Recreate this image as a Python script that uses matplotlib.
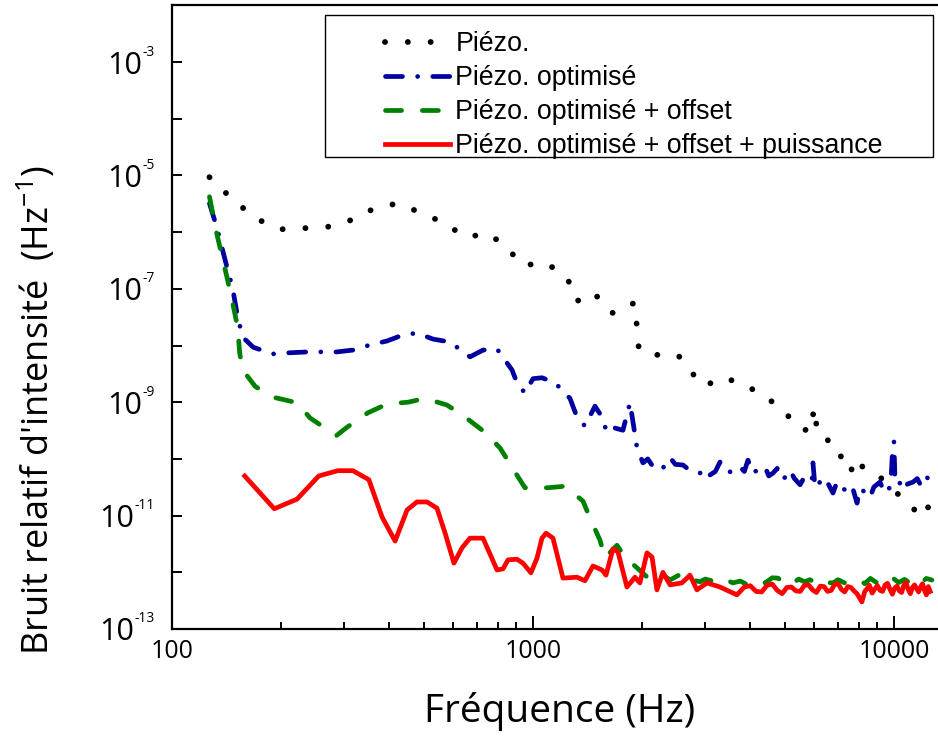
import matplotlib
matplotlib.use("Agg")
import matplotlib.pyplot as plt
from matplotlib.patches import Rectangle
from matplotlib.ticker import LogLocator, NullFormatter, FixedLocator
from matplotlib.transforms import blended_transform_factory, offset_copy

plt.rcParams['font.family'] = ['Open Sans', 'DejaVu Sans']
plt.rcParams['mathtext.fontset'] = 'custom'
plt.rcParams['mathtext.rm'] = 'Open Sans'
plt.rcParams['mathtext.default'] = 'regular'

labels = ["Piézo.", "Piézo. optimisé", "Piézo. optimisé + offset",
          "Piézo. optimisé + offset + puissance"]

# Piézo.
f_piezo = [127, 149, 172, 199, 231, 269, 311, 363, 420, 490, 567, 652, 750, 842, 933,
           1087, 1242, 1324, 1438, 1563, 1666, 1810, 1917, 1940, 1966, 2219, 2522, 2740,
           2995, 3297, 3698, 4121, 4537, 4772, 5022, 5318, 5778, 6043, 6120, 6442, 6776,
           6998, 7458, 7696, 7946, 8318, 8974, 9441, 10190, 10867, 11290, 11650, 12030, 12590]
y_piezo = [9.3e-6, 3.5e-6, 1.7e-6, 1.12e-6, 1.17e-6, 1.23e-6, 1.6e-6, 2.6e-6, 3.2e-6, 2.2e-6,
           1.45e-6, 8.1e-7, 9.5e-7, 5.6e-7, 2.6e-7, 2.85e-7, 1.6e-7, 6.0e-8, 8.7e-8, 6.3e-8,
           3.7e-8, 5.1e-8, 5.6e-8, 2.1e-8, 8.3e-9, 6.8e-9, 6.8e-9, 3.4e-9, 1.9e-9, 2.7e-9,
           2.3e-9, 1.6e-9, 1.1e-9, 8.0e-10, 5.8e-10, 5.3e-10, 2.9e-10, 8.0e-10, 2.9e-10,
           2.5e-10, 1.6e-10, 1.07e-10, 1.2e-10, 5.2e-11, 8.1e-11, 6.9e-11, 5.6e-11, 3.8e-11,
           2.5e-11, 1.66e-11, 1.4e-11, 9.8e-12, 1.4e-11, 1.4e-11]

# Piézo. optimisé
f_opt = [127, 133, 142, 147, 152, 157, 168, 190, 208, 237, 257, 286, 317, 353, 394, 436,
         477, 528, 589, 669, 727, 795, 875, 903, 950, 1000, 1059, 1151, 1266, 1324, 1393,
         1485, 1553, 1603, 1687, 1775, 1857, 1942, 2017, 2080, 2150, 2248, 2320, 2397,
         2480, 2604, 2700, 2775, 2901, 3000, 3092, 3200, 3297, 3400, 3513, 3620, 3744,
         3850, 3940, 4068, 4200, 4393, 4500, 4621, 4750, 4928, 5050, 5152, 5300, 5494,
         5650, 5800, 5927, 5966, 6043, 6200, 6360, 6550, 6776, 6954, 7150, 7413, 7650,
         7902, 8050, 8204, 8400, 8583, 8800, 9149, 9350, 9569, 9800, 9936, 10000, 10070,
         10300, 10590, 10900, 11290, 11600, 11900, 12340, 12590]
y_opt = [3.2e-6, 1.23e-6, 2.4e-7, 1.07e-7, 3.2e-8, 1.4e-8, 9.3e-9, 7.1e-9, 7.4e-9, 7.7e-9,
         7.7e-9, 7.7e-9, 8.3e-9, 1.02e-8, 1.2e-8, 1.53e-8, 1.66e-8, 1.3e-8, 1.15e-8, 6.3e-9,
         8.3e-9, 8.7e-9, 3.7e-9, 2.2e-9, 1.45e-9, 2.6e-9, 2.7e-9, 2.2e-9, 1.17e-9, 5.5e-10,
         3.8e-10, 8.5e-10, 5.5e-10, 2.9e-10, 3.5e-10, 3.2e-10, 9.8e-10, 1.55e-10, 8.5e-11,
         1.0e-10, 7.3e-11, 6.3e-11, 7.5e-11, 1.05e-10, 8.0e-11, 7.8e-11, 6.5e-11, 5.9e-11,
         5.6e-11, 6.8e-11, 5.2e-11, 6.0e-11, 8.8e-11, 6.2e-11, 5.9e-11, 7.0e-11, 7.3e-11,
         6.0e-11, 9.5e-11, 5.6e-11, 6.5e-11, 7.3e-11, 5.0e-11, 5.6e-11, 6.8e-11, 4.3e-11,
         5.2e-11, 6.3e-11, 4.5e-11, 3.5e-11, 4.8e-11, 4.0e-11, 4.3e-11, 8.5e-11, 3.2e-11,
         4.0e-11, 3.1e-11, 3.8e-11, 2.5e-11, 3.9e-11, 3.0e-11, 2.8e-11, 3.4e-11, 1.66e-11,
         3.0e-11, 2.8e-11, 2.2e-11, 2.1e-11, 3.2e-11, 3.9e-11, 2.8e-11, 2.5e-11, 3.5e-11,
         1.9e-10, 2.0e-10, 3.9e-11, 4.2e-11, 2.8e-11, 3.6e-11, 3.9e-11, 4.5e-11, 3.3e-11,
         4.8e-11, 3.8e-11]

# Piézo. optimisé + offset
f_off = [127, 133, 142, 148, 152, 154, 157, 170, 190, 222, 241, 277, 286, 305, 349, 394,
         451, 502, 578, 648, 736, 811, 891, 950, 1101, 1227, 1376, 1438, 1533, 1583, 1709,
         1798, 2069, 2205, 2300, 2397, 2500, 2604, 2700, 2775, 2900, 3000, 3152, 3300,
         3450, 3581, 3750, 3900, 4068, 4250, 4400, 4600, 4772, 4950, 5100, 5250, 5450,
         5650, 5850, 6043, 6250, 6500, 6776, 7000, 7300, 7600, 8050, 8300, 8600, 8974,
         9300, 9600, 9936, 10300, 10700, 11070, 11500, 11900, 12300, 12740]
y_off = [4.2e-6, 9.5e-7, 1.6e-7, 4.8e-8, 2.1e-8, 7.4e-9, 3.7e-9, 1.9e-9, 1.23e-9, 9.8e-10,
         5.3e-10, 2.9e-10, 2.6e-10, 3.6e-10, 6.5e-10, 9.3e-10, 1.0e-9, 1.17e-9, 8.9e-10,
         5.5e-10, 2.95e-10, 1.55e-10, 5.9e-11, 3.1e-11, 3.1e-11, 3.3e-11, 1.8e-11, 9.1e-12,
         3.7e-12, 1.8e-12, 3.0e-12, 1.86e-12, 8.3e-13, 7.3e-13, 8.8e-13, 7.3e-13, 8.5e-13,
         9.7e-13, 7.8e-13, 7.3e-13, 6.8e-13, 7.6e-13, 7.0e-13, 6.4e-13, 7.2e-13, 6.5e-13,
         7.0e-13, 6.2e-13, 6.7e-13, 7.3e-13, 6.5e-13, 8.0e-13, 7.9e-13, 6.6e-13, 7.2e-13,
         6.5e-13, 7.6e-13, 6.8e-13, 7.4e-13, 6.7e-13, 7.5e-13, 6.6e-13, 6.5e-13, 7.4e-13,
         6.5e-13, 7.2e-13, 7.3e-13, 6.3e-13, 7.8e-13, 6.5e-13, 7.4e-13, 6.8e-13, 7.9e-13,
         6.6e-13, 7.5e-13, 6.5e-13, 7.6e-13, 6.6e-13, 7.8e-13, 7.3e-13]

# Piézo. optimisé + offset + puissance
f_pui = [159, 192, 222, 255, 288, 317, 351, 382, 415, 448, 477, 509, 542, 571, 604, 636,
         669, 727, 795, 826, 853, 903, 938, 987, 1026, 1059, 1087, 1136, 1211, 1324, 1393,
         1466, 1553, 1593, 1666, 1719, 1821, 1917, 1978, 2069, 2137, 2205, 2291, 2397,
         2586, 2722, 2846, 3035, 3297, 3673, 3850, 4000, 4150, 4300, 4450, 4600, 4750,
         4900, 5050, 5200, 5350, 5500, 5650, 5800, 5950, 6100, 6250, 6400, 6550, 6700,
         6850, 7000, 7150, 7300, 7450, 7600, 7750, 7900, 8150, 8300, 8400, 8550, 8700,
         8850, 9000, 9150, 9300, 9450, 9600, 9750, 9900, 10050, 10200, 10350, 10500,
         10650, 10800, 10950, 11100, 11250, 11400, 11550, 11700, 11850, 12000, 12150,
         12300, 12450, 12600]
y_pui = [5.0e-11, 1.32e-11, 1.95e-11, 5.0e-11, 6.2e-11, 6.2e-11, 4.3e-11, 9.4e-12, 3.55e-12,
         1.26e-11, 1.74e-11, 1.74e-11, 1.35e-11, 4.9e-12, 1.45e-12, 2.7e-12, 4.0e-12, 4.0e-12,
         1.1e-12, 1.15e-12, 1.66e-12, 1.7e-12, 1.45e-12, 9.8e-13, 1.78e-12, 4.0e-12, 4.9e-12,
         4.0e-12, 7.9e-13, 8.2e-13, 7.1e-13, 1.29e-12, 1.1e-12, 8.9e-13, 2.6e-12, 2.3e-12,
         5.5e-13, 8.2e-13, 6.5e-13, 2.2e-12, 1.86e-12, 4.9e-13, 1.0e-12, 6.0e-13, 6.5e-13,
         8.9e-13, 4.9e-13, 6.5e-13, 5.5e-13, 4.0e-13, 5.5e-13, 5.8e-13, 4.6e-13, 4.5e-13,
         5.9e-13, 6.2e-13, 4.8e-13, 4.2e-13, 5.4e-13, 5.5e-13, 4.7e-13, 4.6e-13, 5.9e-13,
         6.0e-13, 4.9e-13, 4.4e-13, 5.7e-13, 5.6e-13, 4.6e-13, 4.8e-13, 6.1e-13, 6.3e-13,
         5.0e-13, 4.5e-13, 5.6e-13, 5.4e-13, 4.7e-13, 4.2e-13, 3.0e-13, 4.6e-13, 5.0e-13,
         5.9e-13, 4.3e-13, 5.1e-13, 5.8e-13, 4.8e-13, 4.6e-13, 6.0e-13, 6.4e-13, 5.0e-13,
         4.1e-13, 5.3e-13, 5.7e-13, 4.7e-13, 4.4e-13, 5.9e-13, 6.6e-13, 5.0e-13, 4.2e-13,
         5.4e-13, 6.0e-13, 5.2e-13, 4.5e-13, 5.5e-13, 6.3e-13, 4.8e-13, 4.0e-13, 5.6e-13,
         4.6e-13]

y_decades = [1e-13, 1e-12, 1e-11, 1e-10, 1e-9, 1e-8, 1e-7, 1e-6, 1e-5, 1e-4, 1e-3]
y_label_exps = [-13, -11, -9, -7, -5, -3]
x_major = [100, 1000, 10000]
x_labels = ["100", "1000", "10000"]

W, H = 938, 736
fig = plt.figure(figsize=(W / 100, H / 100), dpi=100)
ax = fig.add_axes([172 / W, (H - 629) / H, 769 / W, 623.7 / H])

lw = 3.4
ax.plot(f_piezo, y_piezo, color='black', lw=4.2, linestyle=(0, (0.01, 3.9)),
        dash_capstyle='round', label=labels[0])
ax.plot(f_opt, y_opt, color='#0000a0', lw=lw, linestyle=(0, (3.6, 3.2, 0.01, 3.2)),
        dash_capstyle='round', label=labels[1])
ax.plot(f_off, y_off, color='#008000', lw=lw, linestyle=(0, (3.4, 4.4)),
        dash_capstyle='round', label=labels[2])
ax.plot(f_pui, y_pui, color='#ff0000', lw=lw, linestyle='-',
        solid_joinstyle='round', label=labels[3])

ax.set_xscale('log')
ax.set_yscale('log')
ax.set_xlim(100, 13500)
ax.set_ylim(1e-13, 1e-2)

for side in ['left', 'bottom', 'top']:
    ax.spines[side].set_linewidth(1.6)
ax.spines['right'].set_visible(False)

ax.xaxis.set_major_locator(FixedLocator(x_major))
ax.set_xticklabels(x_labels)
ax.xaxis.set_minor_locator(LogLocator(base=10, subs=range(2, 10)))
ax.xaxis.set_minor_formatter(NullFormatter())
ax.tick_params(axis='x', which='major', direction='in', length=9.5, width=1.4,
               labelsize=18, pad=7, top=False)
ax.tick_params(axis='x', which='minor', direction='in', length=5, width=1.4, top=False)

ax.yaxis.set_major_locator(FixedLocator(y_decades))
ax.yaxis.set_minor_locator(FixedLocator([]))
ax.tick_params(axis='y', which='major', direction='in', length=7.5, width=1.4,
               labelleft=False, right=False)

# y tick labels built as "10" + small exponent
trans = blended_transform_factory(ax.transAxes, ax.transData)
fig.canvas.draw()
renderer = fig.canvas.get_renderer()
for e in y_label_exps:
    t = ax.text(0, 10.0 ** e, str(e), fontsize=10, ha='right', va='center',
                transform=offset_copy(trans, x=-17, y=10, units='dots'))
    w = t.get_window_extent(renderer).width
    ax.text(0, 10.0 ** e, "10", fontsize=22, ha='right', va='center_baseline',
            transform=offset_copy(trans, x=-17 - w - 1, y=0, units='dots'))

ax.set_xlabel("Fréquence (Hz)", fontsize=28)
ax.xaxis.set_label_coords(0.5046, -0.133)
ax.xaxis.label.set_va('center')
ax.set_ylabel("Bruit relatif d'intensité  (Hz$^{-1}$)", fontsize=26)
ax.yaxis.set_label_coords(-0.1756, 0.351)
ax.yaxis.label.set_va('center')

# legend
fig.add_artist(Rectangle((325 / W, (H - 157) / H), 608 / W, 142 / H,
                         transform=fig.transFigure, fill=False, edgecolor='black', lw=1))
fig.legend(loc='upper left', bbox_to_anchor=(385 / W, (H - 31) / H),
           bbox_transform=fig.transFigure, frameon=False, borderpad=0, borderaxespad=0,
           handlelength=2.43, handletextpad=0.2, labelspacing=0.3,
           prop={'family': 'Liberation Sans', 'size': 19.3})

fig.savefig("out.png", dpi=100)
